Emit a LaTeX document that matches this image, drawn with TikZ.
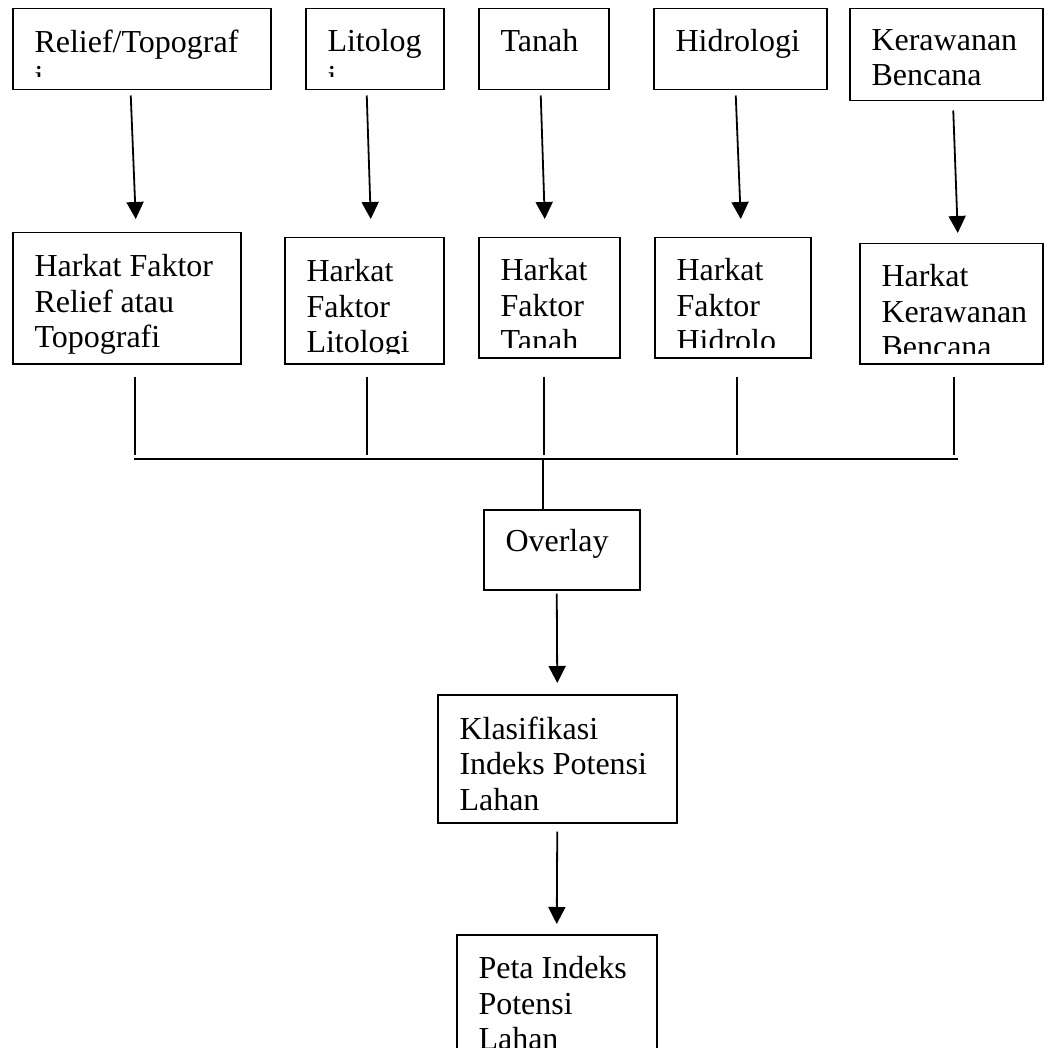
\documentclass[tikz,border=0pt]{standalone}
\usepackage{fontspec}
\setmainfont{Liberation Serif}
\usetikzlibrary{arrows.meta}

\tikzset{
  teks/.style={draw=none, minimum width=0pt, minimum height=0pt, anchor=north west, inner sep=0pt, align=left, font=\fontsize{32}{35.5}\selectfont},
  kotak/.style n args={3}{draw, anchor=north west, inner sep=0pt, path picture={
      \clip ([yshift=#2]path picture bounding box.south west) rectangle (path picture bounding box.north east);
      \node[teks] at ([shift={(21pt,-#1)}]path picture bounding box.north west) {#3};}},
  panah/.style={-{Triangle[width=17pt,length=17pt]}, line width=1.8pt}
}

\begin{document}
\begin{tikzpicture}[x={(1pt,0pt)}, y={(0pt,-1pt)}, line width=1.5pt]
\useasboundingbox (0,0) rectangle (1043,1048);
% baris atas
\node[kotak={20pt}{13pt}{Relief/Topograf\\i}, minimum width=258pt, minimum height=81pt] (relief) at (12,8) {};
\node[kotak={20pt}{13pt}{Litolog\\i}, minimum width=138pt, minimum height=81pt] (litolog) at (305,8) {};
\node[kotak={20pt}{11pt}{Tanah}, minimum width=130pt, minimum height=81pt] (tanah) at (478,8) {};
\node[kotak={20pt}{11pt}{Hidrologi}, minimum width=173pt, minimum height=81pt] (hidrologi) at (653,8) {};
\node[kotak={20pt}{11pt}{Kerawanan\\Bencana}, minimum width=193pt, minimum height=92pt] (kerawanan) at (849,8) {};
% baris harkat
\node[kotak={21pt}{8pt}{Harkat Faktor\\Relief atau\\Topografi}, minimum width=228pt, minimum height=131pt] (hrelief) at (12,232) {};
\node[kotak={21pt}{10pt}{Harkat\\Faktor\\Litologi}, minimum width=159pt, minimum height=126pt] (hlitologi) at (284,237) {};
\node[kotak={20pt}{10pt}{Harkat\\Faktor\\Tanah}, minimum width=141pt, minimum height=120pt] (htanah) at (478,237) {};
\node[kotak={20pt}{10pt}{Harkat\\Faktor\\Hidrolo}, minimum width=156pt, minimum height=120pt] (hhidrologi) at (654,237) {};
\node[kotak={20pt}{10pt}{Harkat\\Kerawanan\\Bencana}, minimum width=183pt, minimum height=120pt] (hkerawanan) at (859,243) {};
% bawah
\node[kotak={19pt}{10pt}{Overlay}, minimum width=156pt, minimum height=80pt] (overlay) at (483,509) {};
\node[kotak={21pt}{10pt}{Klasifikasi\\Indeks Potensi\\Lahan}, minimum width=239pt, minimum height=128pt] (klasifikasi) at (437,694) {};
\node[kotak={21pt}{-26pt}{Peta Indeks\\Potensi\\Lahan}, minimum width=200pt, minimum height=150pt] (peta) at (456,934) {};

\coordinate (busL) at (134,459);
\coordinate (busR) at (958,459);
\coordinate (pusat) at (543,459);

\draw[panah] ([xshift=-11pt,yshift=-5pt]relief.south) -- ([xshift=9pt,yshift=13pt]hrelief.north);
\draw[panah] ([xshift=-8pt,yshift=-5pt]litolog.south) -- ([xshift=6.5pt,yshift=18pt]hlitologi.north);
\draw[panah] ([xshift=-3pt,yshift=-5pt]tanah.south) -- ([xshift=-4.5pt,yshift=18pt]htanah.north);
\draw[panah] ([xshift=-4.5pt,yshift=-5pt]hidrologi.south) -- ([xshift=8pt,yshift=18pt]hhidrologi.north);
\draw[panah] ([xshift=7pt,yshift=-9pt]kerawanan.south) -- ([xshift=6.5pt,yshift=10pt]hkerawanan.north);

\draw ([xshift=8pt,yshift=-12pt]hrelief.south) -- ([xshift=8pt,yshift=-90pt]hrelief.south);
\draw ([xshift=2.5pt,yshift=-12pt]hlitologi.south) -- ([xshift=2.5pt,yshift=-90pt]hlitologi.south);
\draw ([xshift=-5.5pt,yshift=-18pt]htanah.south) -- ([xshift=-5.5pt,yshift=-96pt]htanah.south);
\draw ([xshift=4pt,yshift=-18pt]hhidrologi.south) -- ([xshift=4pt,yshift=-96pt]hhidrologi.south);
\draw ([xshift=2.5pt,yshift=-12pt]hkerawanan.south) -- ([xshift=2.5pt,yshift=-90pt]hkerawanan.south);
\draw (busL) -- (busR);
\draw (pusat) -- (pusat |- overlay.north);

\draw[panah] ([xshift=-5pt,yshift=-3pt]overlay.south) -- ([yshift=11pt]klasifikasi.north);
\draw[panah] ([yshift=-8pt]klasifikasi.south) -- ([yshift=10pt]peta.north);
\end{tikzpicture}
\end{document}
